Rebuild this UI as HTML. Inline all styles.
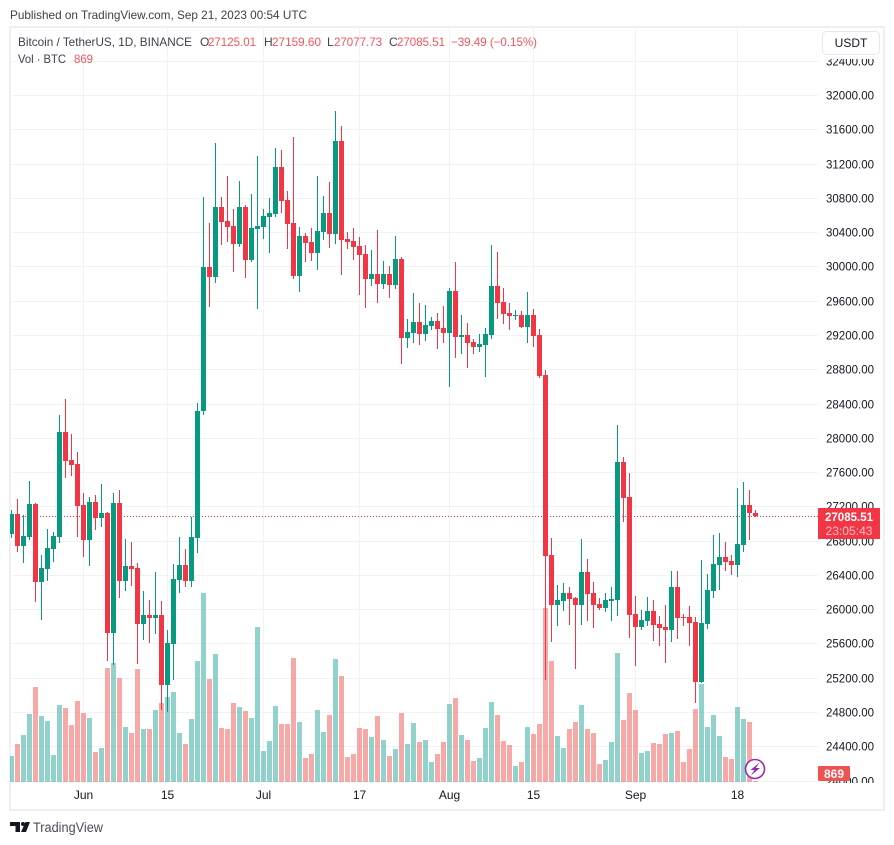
<!DOCTYPE html>
<html lang="en">
<head>
<meta charset="utf-8">
<title>BTC/USDT chart</title>
<style>
html,body{margin:0;padding:0;background:#fff;width:894px;height:845px;overflow:hidden}
svg{display:block;font-family:"Liberation Sans",sans-serif}
</style>
</head>
<body>
<svg id="chart" xmlns="http://www.w3.org/2000/svg" width="894" height="845" viewBox="0 0 894 845">
  <defs>
    <clipPath id="pane-clip"><rect x="10" y="28" width="808" height="754"/></clipPath>
    <clipPath id="price-axis-clip"><rect x="818" y="59" width="64" height="724"/></clipPath>
  </defs>
  <text x="10" y="19" font-size="12" fill="#404040" textLength="297" lengthAdjust="spacingAndGlyphs">Published on TradingView.com, Sep 21, 2023 00:54 UTC</text>
  <rect x="10" y="27" width="874" height="783" fill="#fff" stroke="#eeeff4" stroke-width="2"/>
  <g id="grid"></g>
  <g id="marks" clip-path="url(#pane-clip)"></g>
  <g id="y-axis" clip-path="url(#price-axis-clip)"></g>
  <g id="x-axis"></g>

  <g font-size="12">
    <text x="18" y="46" fill="#3e424e" textLength="174" lengthAdjust="spacingAndGlyphs">Bitcoin / TetherUS, 1D, BINANCE</text>
    <text x="200" y="46" fill="#3e424e">O</text>
    <text x="208" y="46" fill="#f7525f" textLength="48" lengthAdjust="spacingAndGlyphs">27125.01</text>
    <text x="264" y="46" fill="#3e424e">H</text>
    <text x="272" y="46" fill="#f7525f" textLength="49" lengthAdjust="spacingAndGlyphs">27159.60</text>
    <text x="327" y="46" fill="#3e424e">L</text>
    <text x="334" y="46" fill="#f7525f" textLength="48" lengthAdjust="spacingAndGlyphs">27077.73</text>
    <text x="389" y="46" fill="#3e424e">C</text>
    <text x="397" y="46" fill="#f7525f" textLength="48" lengthAdjust="spacingAndGlyphs">27085.51</text>
    <text x="451" y="46" fill="#f7525f" textLength="86" lengthAdjust="spacingAndGlyphs">−39.49 (−0.15%)</text>
    <text x="18" y="63" fill="#3e424e" textLength="48" lengthAdjust="spacingAndGlyphs">Vol · BTC</text>
    <text x="74" y="63" fill="#f7525f" textLength="19" lengthAdjust="spacingAndGlyphs">869</text>
  </g>

  <g>
    <rect x="822.5" y="31.5" width="57" height="23" rx="4" fill="#fff" stroke="#e6e8f0"/>
    <text x="851" y="47" font-size="12" fill="#131722" text-anchor="middle">USDT</text>
  </g>

  <g>
    <rect x="818" y="508" width="62" height="31" fill="#f23645"/>
    <text x="849" y="521" font-size="12" font-weight="bold" fill="#fff" text-anchor="middle" textLength="48" lengthAdjust="spacingAndGlyphs">27085.51</text>
    <text x="849" y="535" font-size="12" fill="#fbc1c6" text-anchor="middle" textLength="47" lengthAdjust="spacingAndGlyphs">23:05:43</text>
  </g>

  <g>
    <rect x="818" y="766" width="32" height="15" rx="1" fill="#ef5350"/>
    <text x="834" y="778" font-size="12" font-weight="bold" fill="#fff" text-anchor="middle">869</text>
  </g>

  <g>
    <circle cx="755" cy="769" r="9.5" fill="#fff" stroke="#9c27b0" stroke-width="1.6"/>
    <polygon points="759.5,762.5 750.5,770 754.5,770 751,775.5 760,768 755.8,768" fill="#9c27b0"/>
  </g>

  <g>
    <polygon points="10,822 20,822 20,832 15.5,832 15.5,826 10,826" fill="#131722"/>
    <circle cx="23" cy="824" r="2" fill="#131722"/>
    <polygon points="25.5,822 30,822 26,832 21,832" fill="#131722"/>
    <text x="33" y="832" font-size="13.5" fill="#4a4e5a" textLength="70" lengthAdjust="spacingAndGlyphs">TradingView</text>
  </g>
</svg>

<script>
const firstDay = '2023-05-20';
const priceTicks = [32400,32000,31600,31200,30800,30400,30000,29600,29200,28800,28400,28000,27600,27200,26800,26400,26000,25600,25200,24800,24400,24000];
const timeTickDates = ['2023-06-01','2023-06-15','2023-07-01','2023-07-17','2023-08-01','2023-08-15','2023-09-01','2023-09-18'];
const timeTickLabels = ['Jun','15','Jul','17','Aug','15','Sep','18'];
const lastPrice = 27085.51;
const opens = [
26877,27111,26737,26842,27227,26317,26469,26702,26842,28068,
27741,27694,27216,26807,27251,27064,27122,25722,27239,26329,
26504,26480,25827,25932,25897,25932,25115,25593,26340,26515,
26329,26830,28313,29993,29876,30693,30530,30472,30261,30693,
30075,30437,30460,30577,30612,31160,30775,30507,29888,30355,
30285,30157,30402,30623,30378,31464,30320,30297,30238,30145,
29853,29911,29795,29911,29783,30087,29165,29223,29351,29211,
29305,29363,29281,29223,29713,29176,29200,29118,29060,29083,
29200,29771,29585,29456,29421,29433,29293,29433,29200,28733,
26632,26049,26095,26189,26130,26049,26434,26189,26060,26014,
26095,26107,27717,27309,25944,25792,25862,25979,25827,25792,
25757,26259,25909,25909,25850,25150,25827,26212,26515,26609,
26562,26515,26749,27216,27125.01];
const highs = [
27157,27286,27099,27496,27240,26632,26936,26901,28266,28453,
28044,27834,27356,27309,27332,27461,27134,27356,27391,26819,
26784,26539,26212,26107,26434,26095,25757,26527,26842,26702,
27076,28406,30810,30507,31440,30810,31055,30670,30997,30717,
30845,31289,30670,30798,31382,31358,30880,31510,30460,30390,
30448,31055,30822,30985,31814,31638,30402,30448,30343,30250,
30192,30425,30063,30005,30355,30110,29386,29690,29573,29550,
29410,29456,29538,29748,30052,29433,29340,29153,29211,29281,
30250,30168,29748,29573,29491,29480,29701,29503,29270,28791,
26830,26282,26305,26259,26142,26819,26585,26317,26130,26189,
26259,28149,27776,27589,26154,25990,26142,26107,25920,26049,
26445,26445,25944,26037,25909,26574,26411,26866,26889,26784,
26632,27414,27484,27391,27159.60];
const lows = [
26830,26667,26539,26807,26084,25874,26329,26550,26772,27531,
27554,26842,26609,26504,26924,26959,25395,25348,26130,26212,
26270,25360,25640,25605,25710,24823,24800,25173,26189,26259,
26259,26655,28266,29526,29806,30250,30285,29935,30227,29865,
30052,29503,30320,30157,30577,30623,30203,29853,29701,30052,
30063,29958,30308,30215,30261,29900,30203,30075,29666,29515,
29771,29573,29736,29631,29736,28861,29048,29106,29083,29130,
29258,29036,29106,28593,28931,28978,28814,28978,29001,28709,
29153,29386,29328,29258,29375,29281,29106,29060,28700,25173,
25617,25804,25979,25815,25302,25815,25862,25780,25990,25967,
25862,25920,27017,25663,25337,25757,25804,25629,25570,25372,
25617,25652,25804,25570,24905,25138,25769,26130,26224,26445,
26399,26375,26667,26807,27077.73];
const closes = [
27111,26737,26854,27227,26317,26480,26714,26854,28068,27729,
27682,27204,26807,27251,27064,27122,25722,27239,26329,26504,
26469,25827,25932,25897,25932,25115,25605,26352,26515,26329,
26842,28313,29993,29876,30693,30518,30460,30261,30693,30075,
30448,30472,30588,30623,31160,30763,30495,29888,30355,30273,
30157,30413,30623,30378,31464,30308,30285,30227,30133,29853,
29911,29795,29911,29783,30087,29165,29235,29351,29211,29316,
29363,29270,29223,29713,29176,29200,29106,29060,29095,29211,
29771,29573,29445,29421,29433,29293,29433,29188,28721,26621,
26049,26107,26189,26119,26049,26434,26177,26049,26014,26107,
26119,27717,27297,25932,25792,25874,25979,25815,25780,25757,
26259,25897,25897,25839,25150,25839,26224,26527,26609,26550,
26515,26760,27216,27122,27085.51];
const volumes = [
25700,37700,46700,67700,94700,65700,60700,26700,76700,73700,
56700,80700,68700,63700,29700,33700,113700,118700,103700,54700,
48700,112700,52700,52700,71700,78700,84700,89700,48700,37700,
62700,120700,188700,102700,127700,53700,52700,78700,74700,70700,
63700,154700,30700,40700,75700,57700,57700,123700,59700,23700,
27700,71700,49700,66700,122700,105700,24700,27700,53700,52700,
44700,65700,41700,25700,32700,68700,37700,58700,39700,41700,
19700,27700,39700,77700,83700,46700,41700,20700,23700,53700,
79700,66700,40700,36700,15700,19700,54700,47700,57700,173700,
120700,45700,33700,52700,59700,76700,52700,48700,17700,21700,
39700,128700,61700,88700,71700,28700,30700,38700,37700,47700,
48700,50700,19700,32700,72700,97700,54700,66700,45700,24700,
22700,74700,62700,59700,869];

const SVG_NS = 'http://www.w3.org/2000/svg';
const UP = '#089981', DOWN = '#f23645';
const UP_VOL = '#26a69a', DOWN_VOL = '#ef5350';

function xCenter(i) { return 11.5 + 6 * i; }
function yPrice(p) { return 95 + (32000 - p) * 0.0857; }
function volHeight(v) { return v / 1000; }
function dayIndex(d) { return Math.round((Date.parse(d) - Date.parse(firstDay)) / 86400000); }

function make(tag, attrs, parent) {
  const el = document.createElementNS(SVG_NS, tag);
  for (const k in attrs) el.setAttribute(k, attrs[k]);
  parent.appendChild(el);
  return el;
}

const grid = document.getElementById('grid');
const marks = document.getElementById('marks');
const yAxis = document.getElementById('y-axis');
const xAxis = document.getElementById('x-axis');
const BASE_Y = 782;

priceTicks.forEach(function (p) {
  const y = Math.round(yPrice(p)) + 0.5;
  const line = make('line', {x1: 11, x2: 818, y1: y, y2: y, stroke: '#f1f2f6', 'stroke-width': 1}, grid);
  
  
  const t = make('text', {x: 874, y: y + 4, 'font-size': 12, fill: '#131722', 'text-anchor': 'end', textLength: 48, lengthAdjust: 'spacingAndGlyphs'}, yAxis);
  
  
  t.textContent = p.toFixed(2);
});

timeTickDates.forEach(function (d, k) {
  const x = Math.floor(xCenter(dayIndex(d))) + 0.5;
  const line = make('line', {x1: x, x2: x, y1: 28, y2: BASE_Y, stroke: '#f1f2f6', 'stroke-width': 1}, grid);
  
  
  const t = make('text', {x: x, y: 799, 'font-size': 12, fill: '#131722', 'text-anchor': 'middle'}, xAxis);
  
  
  t.textContent = timeTickLabels[k];
});

closes.forEach(function (c, i) {
  const up = c >= opens[i];
  const h = Math.max(1, Math.round(volHeight(volumes[i])));
  const bar = make('rect', {x: xCenter(i) - 2.5, y: BASE_Y - h, width: 5, height: h, fill: up ? UP_VOL : DOWN_VOL, 'fill-opacity': 0.5}, marks);
  
  
});

const lastY = Math.round(yPrice(lastPrice)) + 0.5;
const lastLine = make('line', {x1: 10, x2: 818, y1: lastY, y2: lastY, stroke: '#f23645', 'stroke-width': 1, 'stroke-dasharray': '1 2'}, marks);



closes.forEach(function (c, i) {
  const o = opens[i];
  const up = c >= o;
  const color = up ? UP : DOWN;
  const g = make('g', {}, marks);
  
  
  const xc = xCenter(i);
  const wickTop = Math.round(yPrice(highs[i]));
  const wickBot = Math.round(yPrice(lows[i]));
  const wick = make('rect', {x: xc - 0.5, y: wickTop, width: 1, height: Math.max(1, wickBot - wickTop), fill: color}, g);
  
  
  const top = Math.round(yPrice(Math.max(o, c)));
  const bot = Math.round(yPrice(Math.min(o, c)));
  const body = make('rect', {x: xc - 2.5, y: top, width: 5, height: Math.max(1, bot - top), fill: color}, g);
  
  
});
</script>
</body>
</html>
